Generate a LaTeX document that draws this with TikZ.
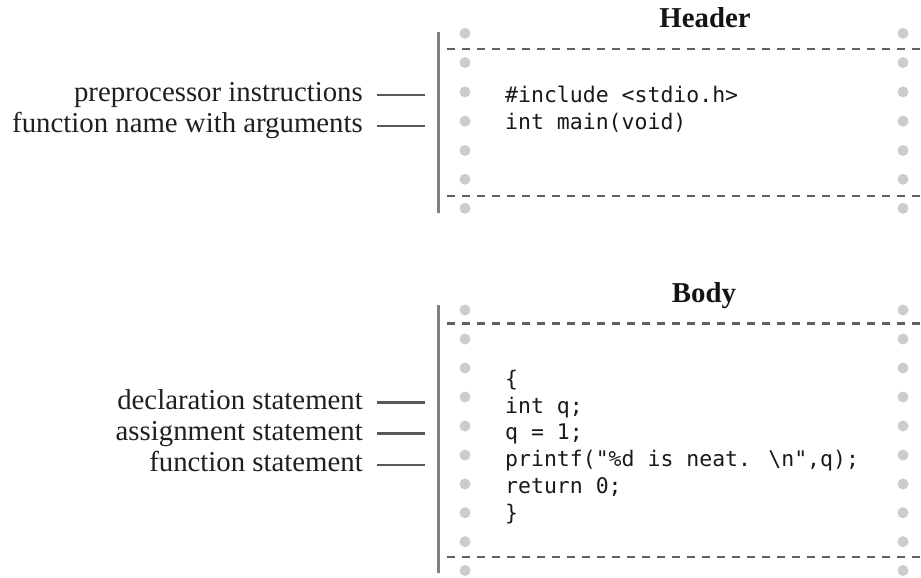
\documentclass[tikz,border=0pt]{standalone}
\usepackage{fontspec}
\setmainfont{Liberation Serif}
\newfontfamily\codefont{DejaVu Sans Mono}
\begin{document}
\begin{tikzpicture}[x=1pt,y=-1pt,
  lbl/.style={anchor=base east,inner sep=0pt,text=black!88,font=\fontsize{28.8}{31.7}\selectfont},
  ttl/.style={anchor=base,inner sep=0pt,text=black!92,font=\bfseries\fontsize{28.8}{32}\selectfont},
  codeblk/.style={anchor=base west,inner sep=0pt,align=left,text=black!90,font=\codefont\fontsize{21.5}{26.7}\selectfont},
  conn/.style={draw=black!65,line width=2.2pt},
  vbar/.style={draw=black!50,line width=3pt},
  dline/.style={draw=black!62,line width=2.4pt,dash pattern=on 8pt off 7pt},
  dotc/.style={fill=black!20,draw=none}]
\useasboundingbox (0,0) rectangle (921,578);

% ---------- Header ----------
\node[ttl] (htitle) at (705,28) {Header};
\draw[vbar] (438,32) -- (438,213);
\draw[dline] (447,49.3) -- (921,49.3);
\draw[dline] (447,196) -- (921,196);
\foreach \y in {33.3,62.6,91.9,121.2,150.5,179.3,208.3}{
  \fill[dotc] (465,\y) circle (5.5);
  \fill[dotc] (903,\y) circle (5.5);
}
\node[codeblk] (hcode) at (505,129) {\#include <stdio.h>\\int main(void)};

\node[lbl] (pp) at (363,101.7) {preprocessor instructions};
\node[lbl] (fn) at (363,132.5) {function name with arguments};
\coordinate (pps) at (377,95);
\coordinate (ppe) at (425,95);
\coordinate (fns) at (377,126.3);
\coordinate (fne) at (425,126.3);
\draw[conn] (pps) -- (ppe);
\draw[conn] (fns) -- (fne);

% ---------- Body ----------
\node[ttl] (btitle) at (704,302) {Body};
\draw[vbar] (438,305) -- (438,573);
\draw[dline] (447,323.3) -- (921,323.3);
\draw[dline] (447,556.7) -- (921,556.7);
\foreach \y in {310,339,368,397,426,455,484,512.7,541.7,570.5}{
  \fill[dotc] (465,\y) circle (5.5);
  \fill[dotc] (903,\y) circle (5.5);
}
\node[codeblk] (bcode) at (505,520) {\{\\int q;\\q = 1;\\printf("\%d is neat. \textbackslash n",q);\\return 0;\\\}};

\node[lbl] (dec) at (363,409) {declaration statement};
\node[lbl] (asg) at (363,440) {assignment statement};
\node[lbl] (fst) at (363,471.5) {function statement};
\coordinate (decs) at (377,402.5);
\coordinate (dece) at (425,402.5);
\coordinate (asgs) at (377,433.5);
\coordinate (asge) at (425,433.5);
\coordinate (fsts) at (377,465);
\coordinate (fste) at (425,465);
\draw[conn] (decs) -- (dece);
\draw[conn] (asgs) -- (asge);
\draw[conn] (fsts) -- (fste);
\end{tikzpicture}
\end{document}
